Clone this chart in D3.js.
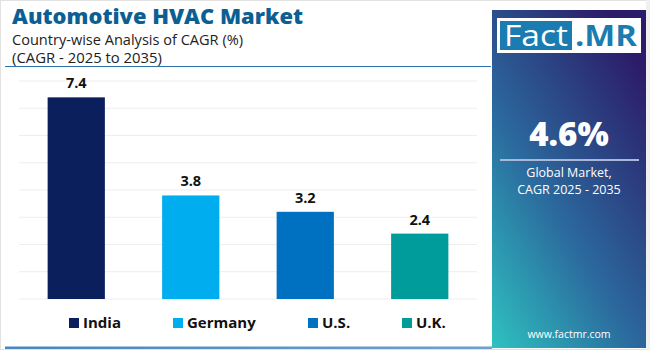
<!DOCTYPE html>
<html lang="en">
<head>
<meta charset="UTF-8">
<title>Automotive HVAC Market</title>
<script src="https://d3js.org/d3.v7.min.js"></script>
<style>
  body { margin: 0; background: #fff; overflow: hidden; }
  text { font-family: "Open Sans", "DejaVu Sans", sans-serif; }
</style>
</head>
<body>
<div id="chart"></div>
<script>
// data
const countries = ["India", "Germany", "U.S.", "U.K."];
const cagr = [7.4, 3.8, 3.2, 2.4];
const barColors = ["#0b1f5c", "#00aeef", "#0070c0", "#009b9b"];
const gridTicks = [0, 1, 2, 3, 4, 5, 6, 7, 8];
const globalCagr = "4.6%";

const W = 650, H = 350;

const svg = d3.select("#chart").append("svg")
    .attr("width", W)
    .attr("height", H);

const defs = svg.append("defs");
const grad = defs.append("linearGradient")
    .attr("id", "panelGrad")
    .attr("x1", "0").attr("y1", "1")
    .attr("x2", "0.75").attr("y2", "0");
grad.append("stop").attr("offset", "0").attr("stop-color", "#2ec2c0");
grad.append("stop").attr("offset", "0.45").attr("stop-color", "#2b6a9e");
grad.append("stop").attr("offset", "1").attr("stop-color", "#2c1b68");

const lineGrad = defs.append("linearGradient").attr("id", "lineGrad");
lineGrad.append("stop").attr("offset", "0").attr("stop-color", "#4a86bb");
lineGrad.append("stop").attr("offset", "1").attr("stop-color", "#6fa0cf");

// outer frame
svg.append("rect")
    .attr("x", 0.5).attr("y", 0.5)
    .attr("width", W - 1).attr("height", H - 1)
    .attr("fill", "#fff")
    .attr("stroke", "#e2e2e2");

// title block
svg.append("text")
    .attr("x", 12).attr("y", 24)
    .attr("font-size", 20.5).attr("font-weight", 800)
    .attr("fill", "#0c5f92")
    .attr("textLength", 291).attr("lengthAdjust", "spacingAndGlyphs")
    .text("Automotive HVAC Market");
svg.append("text")
    .attr("x", 12).attr("y", 44.5)
    .attr("font-size", 14).attr("fill", "#222")
    .attr("textLength", 231).attr("lengthAdjust", "spacingAndGlyphs")
    .text("Country-wise Analysis of CAGR (%)");
svg.append("text")
    .attr("x", 12).attr("y", 62.5)
    .attr("font-size", 14).attr("fill", "#222")
    .attr("textLength", 150).attr("lengthAdjust", "spacingAndGlyphs")
    .text("(CAGR - 2025 to 2035)");

svg.append("line")
    .attr("x1", 5).attr("x2", 491)
    .attr("y1", 66.5).attr("y2", 66.5)
    .attr("stroke", "#2f72b0").attr("stroke-width", 1.2);

svg.append("rect")
    .attr("x", 5).attr("y", 346.5)
    .attr("width", 487).attr("height", 2.5)
    .attr("fill", "url(#lineGrad)");

// chart
const x = d3.scaleBand()
    .domain(countries)
    .range([19, 477])
    .paddingInner(0.5)
    .paddingOuter(0.25);

const y = d3.scaleLinear()
    .domain([0, 8])
    .range([299, 81]);

const plot = svg.append("g");

plot.append("g")
    .selectAll("line")
    .data(gridTicks)
    .join("line")
    .attr("x1", 19).attr("x2", 477)
    .attr("y1", d => y(d)).attr("y2", d => y(d))
    .attr("stroke", "#ededed").attr("stroke-width", 1);

plot.append("g")
    .selectAll("rect")
    .data(countries)
    .join("rect")
    .attr("x", d => x(d))
    .attr("y", (d, i) => y(cagr[i]))
    .attr("width", x.bandwidth())
    .attr("height", (d, i) => y(0) - y(cagr[i]))
    .attr("fill", (d, i) => barColors[i]);

plot.append("g")
    .selectAll("text")
    .data(countries)
    .join("text")
    .attr("x", d => x(d) + x.bandwidth() / 2)
    .attr("y", (d, i) => y(cagr[i]) - 9)
    .attr("text-anchor", "middle")
    .attr("font-size", 14.5).attr("font-weight", 700)
    .attr("fill", "#111")
    .text((d, i) => cagr[i].toFixed(1));

// legend
const legendX = [69, 173, 308, 402];
const legend = svg.append("g")
    .selectAll("g")
    .data(countries)
    .join("g")
    .attr("transform", (d, i) => `translate(${legendX[i]},318)`);
legend.append("rect")
    .attr("width", 10).attr("height", 10)
    .attr("fill", (d, i) => barColors[i]);
legend.append("text")
    .attr("x", 14).attr("y", 10)
    .attr("font-size", 15).attr("font-weight", 700)
    .attr("fill", "#111")
    .text(d => d);

// right panel
const panel = svg.append("g");
panel.append("rect")
    .attr("x", 646).attr("y", 0).attr("width", 4).attr("height", H)
    .attr("fill", "#f0f0f0");
panel.append("rect")
    .attr("x", 492).attr("y", 10)
    .attr("width", 154).attr("height", 338)
    .attr("fill", "url(#panelGrad)");

// logo
panel.append("rect")
    .attr("x", 497).attr("y", 18).attr("width", 144).attr("height", 35)
    .attr("fill", "#fff");
panel.append("rect")
    .attr("x", 500).attr("y", 21).attr("width", 72).attr("height", 29)
    .attr("fill", "#1a7cb0");
panel.append("text")
    .attr("x", 504).attr("y", 46)
    .attr("font-size", 29).attr("fill", "#fff")
    .attr("textLength", 64).attr("lengthAdjust", "spacingAndGlyphs")
    .text("Fact");
panel.append("text")
    .attr("x", 575).attr("y", 46)
    .attr("font-size", 29).attr("font-weight", 700).attr("fill", "#1a7cb0")
    .attr("textLength", 62).attr("lengthAdjust", "spacingAndGlyphs")
    .text(".MR");

panel.append("text")
    .attr("x", 569).attr("y", 146)
    .attr("text-anchor", "middle")
    .attr("font-size", 33).attr("font-weight", 800).attr("fill", "#fff")
    .text(globalCagr);
panel.append("line")
    .attr("x1", 500).attr("x2", 639)
    .attr("y1", 160).attr("y2", 160)
    .attr("stroke", "#a9b8d8").attr("stroke-width", 2);
panel.append("text")
    .attr("x", 569).attr("y", 177)
    .attr("text-anchor", "middle")
    .attr("font-size", 12.5).attr("fill", "#fff")
    .text("Global Market,");
panel.append("text")
    .attr("x", 569).attr("y", 194)
    .attr("text-anchor", "middle")
    .attr("font-size", 12.5).attr("fill", "#fff")
    .text("CAGR 2025 - 2035");
panel.append("text")
    .attr("x", 569).attr("y", 338)
    .attr("text-anchor", "middle")
    .attr("font-size", 10.5).attr("fill", "#fff")
    .text("www.factmr.com");
</script>
</body>
</html>
